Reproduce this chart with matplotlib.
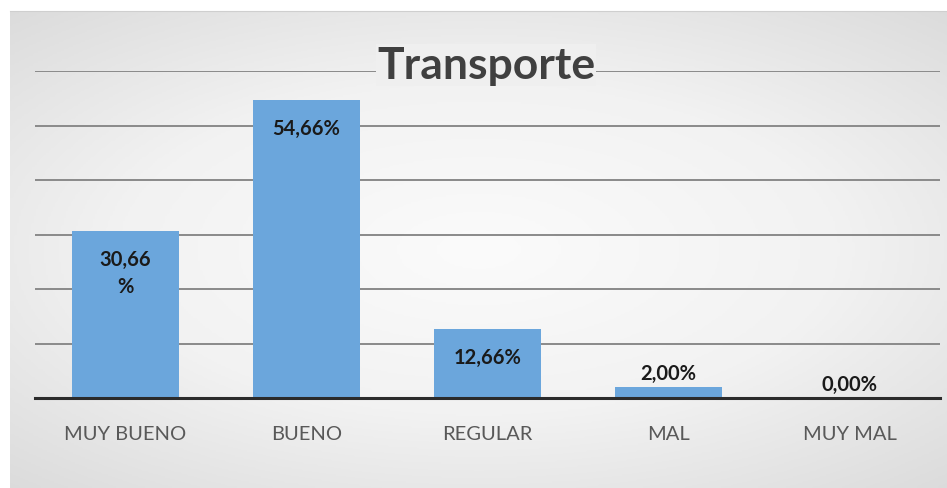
import numpy as np
import matplotlib as mpl
from matplotlib import pyplot as plt

categorias = ['MUY BUENO', 'BUENO', 'REGULAR', 'MAL', 'MUY MAL']
porcentajes = [30.66, 54.66, 12.66, 2.00, 0.00]
partir = [0]   # etiquetas que Excel parte en dos lineas

plt.rcParams['font.family'] = ['Lato', 'DejaVu Sans']

fig = plt.figure(figsize=(9.47, 4.89), dpi=100)
fig.patch.set_facecolor('white')

# fondo con degradado radial
cmap = mpl.colors.LinearSegmentedColormap.from_list('g', ['#fbfbfb', '#f2f2f2', '#dadada'])
bg = fig.add_axes([10/947, 0, 1 - 10/947, 1 - 12/489], zorder=0)
yy, xx = np.mgrid[-1:1:200j, -1:1:400j]
r = np.sqrt((xx/1.1)**2 + (yy/1.0)**2)
bg.imshow(r, cmap=cmap, aspect='auto', extent=[0, 1, 0, 1], vmin=0, vmax=1.4)
bg.set_xticks([])
bg.set_yticks([])
for s in bg.spines.values():
    s.set_visible(False)
bg.spines['top'].set_visible(True)
bg.spines['top'].set_color('#cfcfcf')

ax = fig.add_axes([35/947, 90/489, 905/947, 327/489], zorder=1)
ax.patch.set_alpha(0)
x = np.arange(len(categorias))
bars = ax.bar(x, porcentajes, width=0.59, color='#6ba6dc', zorder=3)
ax.set_xlim(-0.5, len(categorias) - 0.5)
ax.set_ylim(0, 60)
ax.set_yticks(np.arange(0, 61, 10))
ax.yaxis.grid(True, color='#8a8a8a', lw=1.4, zorder=0)
ax.tick_params(axis='y', left=False, labelleft=False)
ax.set_xticks(x)
ax.set_xticklabels(categorias, fontsize=14.5, color='#595959')
ax.tick_params(axis='x', bottom=False, pad=16)
for s in ['top', 'right', 'left']:
    ax.spines[s].set_visible(False)
ax.spines['bottom'].set_color('#2b2b2b')
ax.spines['bottom'].set_linewidth(2.2)
ax.spines['bottom'].set_zorder(4)

for i, v in enumerate(porcentajes):
    txt = f'{v:.2f}'.replace('.', ',')
    txt = txt + ('\n%' if i in partir else '%')
    if v > 5:
        ax.annotate(txt, (x[i], v), xytext=(0, -13), textcoords='offset points',
                    ha='center', va='top', fontsize=14.5, fontweight='bold',
                    color='#1a1a1a', linespacing=1.45, zorder=5)
    else:
        ax.annotate(txt, (x[i], v), xytext=(0, 3), textcoords='offset points',
                    ha='center', va='bottom', fontsize=14.5, fontweight='bold',
                    color='#1a1a1a', zorder=5)

# color del fondo detras del titulo para tapar la linea de la reja
tx, ty = 486/947, 1 - 66/489
fy = ty / (1 - 12/489)
rr = np.sqrt(((tx - 10/947) / (1 - 10/947) * 2 - 1)**2 / 1.21 + (fy * 2 - 1)**2)
fondo = cmap(rr / 1.4)
fig.text(tx, ty, 'Transporte', ha='center', va='center',
         fontsize=32, fontweight='bold', color='#404040', zorder=6,
         bbox=dict(facecolor=fondo, edgecolor='none', pad=1))

fig.savefig('out.png', dpi=100)
